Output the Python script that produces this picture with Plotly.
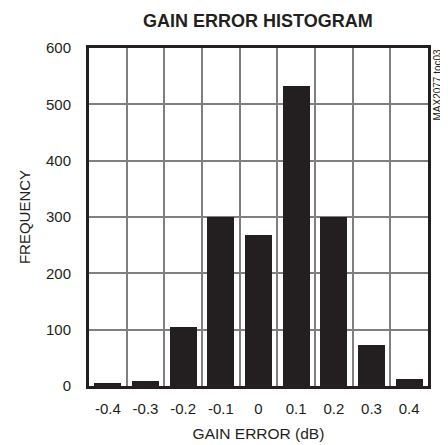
import plotly.graph_objects as go

gain_error = [-0.4, -0.3, -0.2, -0.1, 0.0, 0.1, 0.2, 0.3, 0.4]
tick_labels = ["-0.4", "-0.3", "-0.2", "-0.1", "0", "0.1", "0.2", "0.3", "0.4"]
frequency = [6, 8, 105, 300, 268, 532, 300, 72, 12]
bin_edges = [-0.35, -0.25, -0.15, -0.05, 0.05, 0.15, 0.25, 0.35]
y_ticks = [0, 100, 200, 300, 400, 500, 600]

FONT = "Liberation Sans, Arial, sans-serif"
INK = "#231f20"

fig = go.Figure()
fig.add_trace(go.Bar(x=gain_error, y=frequency, width=0.071,
                     marker=dict(color=INK, line=dict(width=0)), showlegend=False))
# invisible trace on secondary x-axis for the bin-boundary grid
fig.add_trace(go.Scatter(x=bin_edges, y=[None]*len(bin_edges), xaxis="x2",
                         showlegend=False, hoverinfo="skip"))

# the page body has an 8px margin, so the figure is 8px smaller and margins shifted
fig.update_layout(
    width=440, height=437,
    margin=dict(l=81, r=20, t=40, b=59, autoexpand=False),
    paper_bgcolor="white", plot_bgcolor="white",
    font=dict(family=FONT, size=15, color=INK),
    title=dict(text="<b>GAIN ERROR HISTOGRAM</b>", x=0.568, xanchor="center",
               y=0.970, yanchor="middle", font=dict(family=FONT, size=18, color=INK)),
    xaxis=dict(range=[-0.45, 0.45], tickvals=gain_error, ticktext=tick_labels,
               showgrid=False, zeroline=False, ticks="", ticklabelstandoff=7,
               automargin=False,
               showline=True, mirror=True, linewidth=3, linecolor=INK,
               title=dict(text="GAIN ERROR (dB)", standoff=13,
                          font=dict(family=FONT, size=15.5, color=INK))),
    xaxis2=dict(range=[-0.45, 0.45], overlaying="x", tickvals=bin_edges,
                showticklabels=False, showgrid=True, gridcolor="#7f7f7f",
                gridwidth=1.5, zeroline=False, ticks="", showline=False,
                automargin=False),
    yaxis=dict(range=[0, 600], tickvals=y_ticks, showgrid=True, gridcolor="#7f7f7f",
               gridwidth=1.5, zeroline=False, ticks="", ticklabelstandoff=12,
               automargin=False,
               showline=True, mirror=True, linewidth=3, linecolor=INK,
               title=dict(text="FREQUENCY", standoff=12,
                          font=dict(family=FONT, size=15, color=INK))),
    bargap=0,
    annotations=[dict(text="MAX2077 toc03", textangle=-90, xref="paper", yref="paper",
                      x=1.0, y=1.0, xanchor="left", yanchor="top", xshift=1, yshift=1,
                      showarrow=False, font=dict(family=FONT, size=10, color=INK))],
)
fig.write_html("out.html")
